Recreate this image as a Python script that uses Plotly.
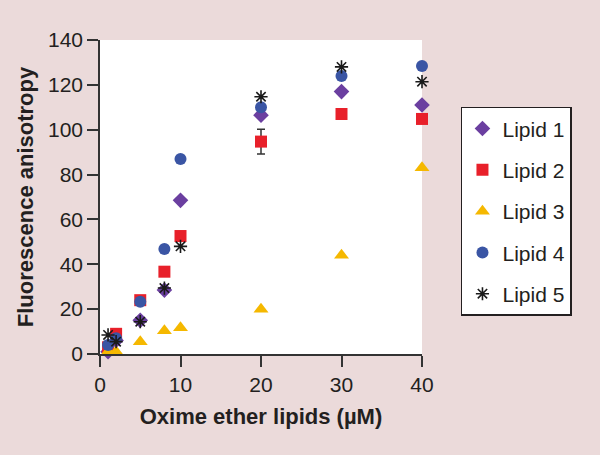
import plotly.graph_objects as go

conc = [1, 2, 5, 8, 10, 20, 30, 40]
lipid1 = [1, 6, 15, 28.5, 68.5, 106.5, 117, 111]
lipid2 = [3, 9, 24, 36.7, 52.6, 94.7, 107, 104.8]
lipid2_err = [0, 0, 0, 0, 0, 5.5, 0, 0]
lipid3 = [1, 1, 5.5, 10.4, 11.7, 20, 44, 83]
lipid4 = [4, 7, 23.3, 46.8, 86.9, 110, 124, 128.4]
lipid5 = [8.5, 5.5, 14.4, 29.4, 48, 114.7, 128, 121.4]
names = ["Lipid 1", "Lipid 2", "Lipid 3", "Lipid 4", "Lipid 5"]
x_ticks = [0, 10, 20, 30, 40]
y_ticks = [0, 20, 40, 60, 80, 100, 120, 140]

series = [lipid1, lipid2, lipid3, lipid4, lipid5]
symbols = ["diamond", "square", "triangle-up", "circle", "asterisk-open"]
colors = ["#6B3FA0", "#E8202A", "#F5B800", "#3A55A4", "#1a1a1a"]
sizes = [12, 12, 13, 12, 11]

fig = go.Figure()
for i, (nm, ys) in enumerate(zip(names, series)):
    marker = dict(symbol=symbols[i], color=colors[i], size=sizes[i])
    if symbols[i].endswith("open"):
        marker["line"] = dict(color=colors[i], width=1.6)
    else:
        marker["line"] = dict(width=0)
    kw = {}
    if i == 1:
        kw["error_y"] = dict(type="data", array=lipid2_err, visible=True,
                             color="#333333", thickness=1.5, width=4)
    fig.add_trace(go.Scatter(x=conc, y=ys, mode="markers", name=nm,
                             marker=marker, legendgroup=nm, cliponaxis=False, **kw))

bg = "#EBDADA"
txt = "#231F20"
fig.update_layout(
    width=600, height=455,
    paper_bgcolor=bg, plot_bgcolor="white",
    margin=dict(l=100, r=178, t=40, b=101),
    font=dict(family="Liberation Sans, Arial, sans-serif", size=21, color=txt),
    showlegend=True,
    legend=dict(x=1.121, y=0.787, xanchor="left", yanchor="top",
                bgcolor="white", bordercolor=txt, borderwidth=1.5,
                font=dict(size=21), tracegroupgap=11, itemwidth=30),
    xaxis=dict(range=[0, 40], tickvals=x_ticks, showgrid=False,
               zeroline=False, showline=True, linecolor="#333", linewidth=1.5,
               ticks="outside", ticklen=11, tickcolor="#333", tickwidth=1.5,
               tickfont=dict(size=21),
               title=dict(text="<b>Oxime ether lipids (µM)</b>", font=dict(size=22), standoff=14)),
    yaxis=dict(range=[0, 140], tickvals=y_ticks, showgrid=False,
               zeroline=False, showline=True, linecolor="#333", linewidth=1.5,
               ticks="outside", ticklen=11, tickcolor="#333", tickwidth=1.5,
               tickfont=dict(size=21),
               title=dict(text="<b>Fluorescence anisotropy</b>", font=dict(size=22), standoff=8)),
)
fig.write_html("out.html", config={"displayModeBar": False},
               post_script="document.body.style.margin='0';")
